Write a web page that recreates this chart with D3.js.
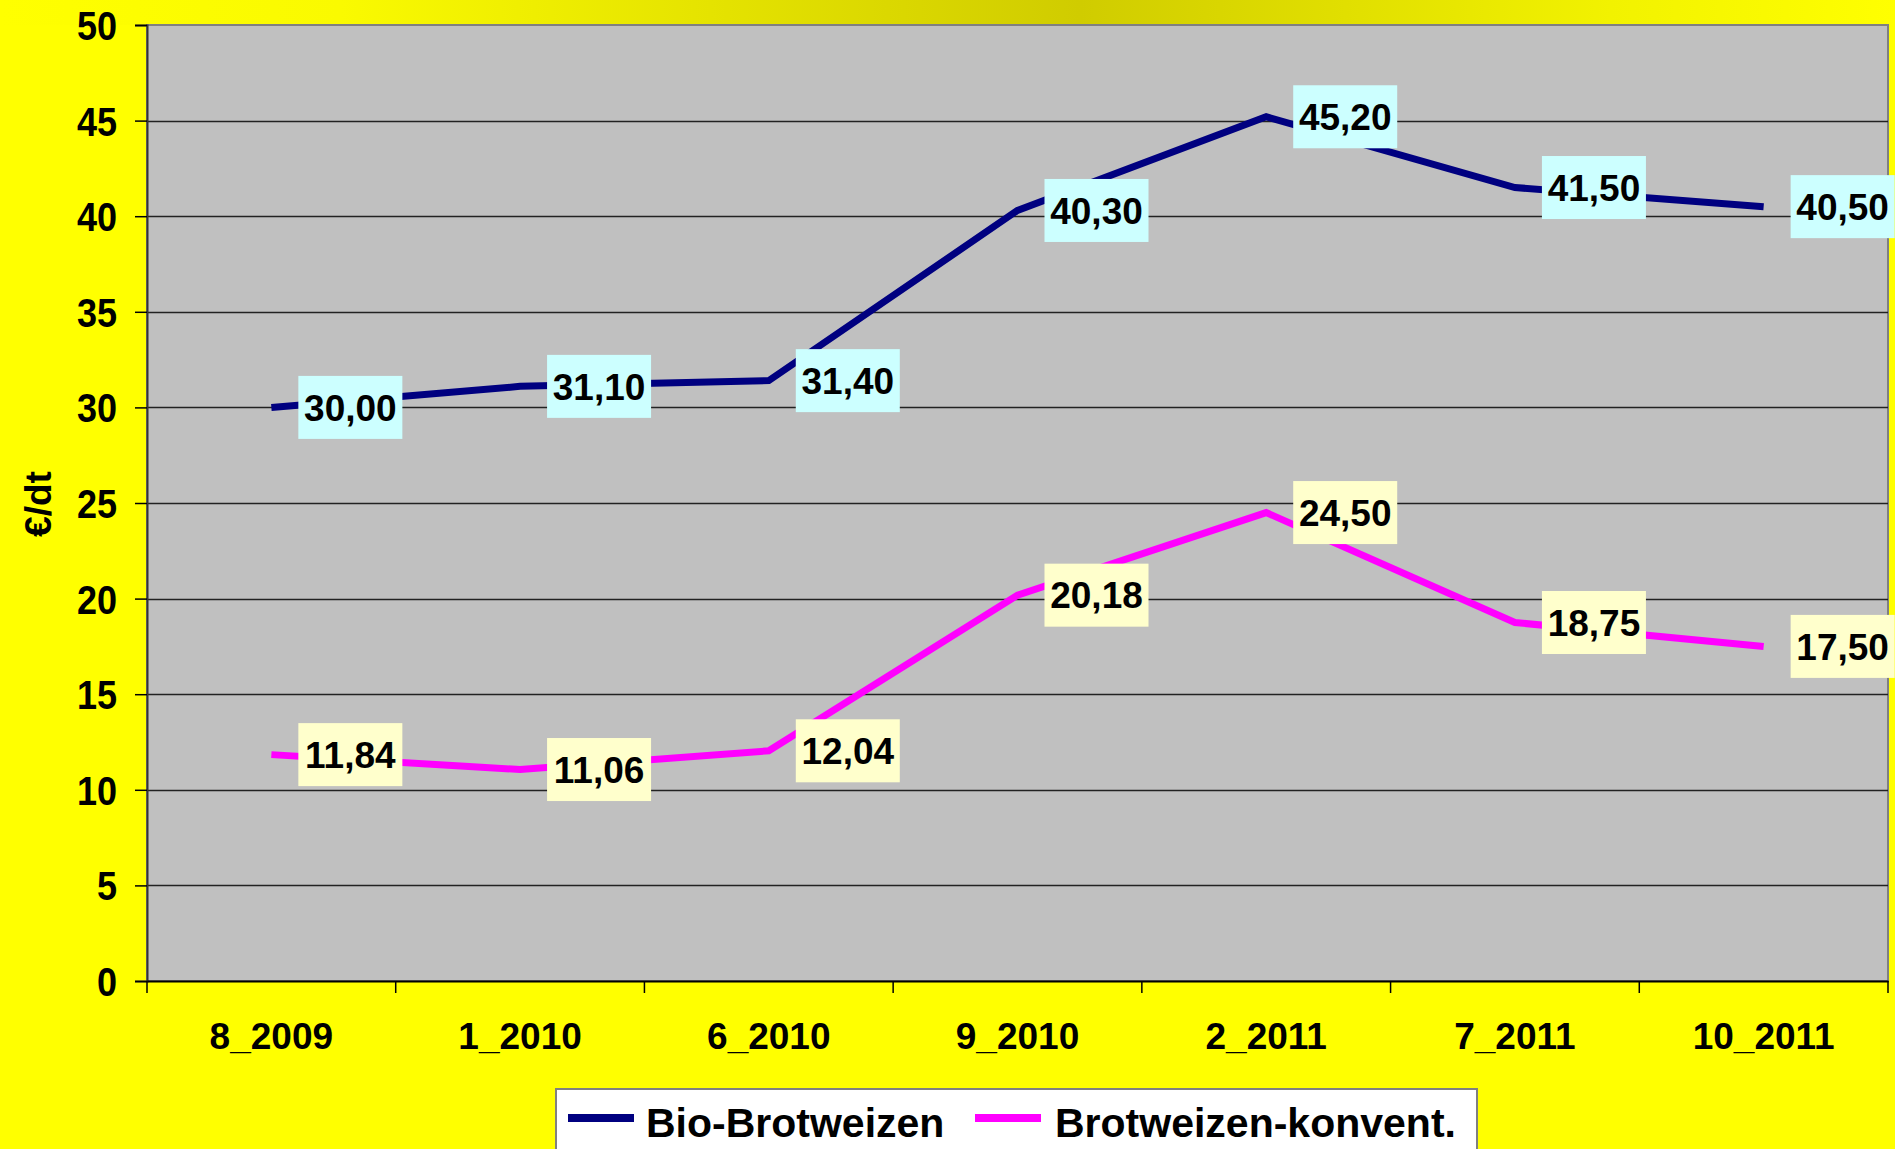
<!DOCTYPE html>
<html lang="de">
<head>
<meta charset="utf-8">
<script src="https://d3js.org/d3.v7.min.js"></script>
<style>
  body { margin: 0; background: #ffff00; }
  svg { display: block; }
  text { font-family: "Liberation Sans", Arial, sans-serif; font-weight: bold; fill: #000; }
</style>
</head>
<body>
<script>
// data
var categories = ["8_2009", "1_2010", "6_2010", "9_2010", "2_2011", "7_2011", "10_2011"];
var bioValues = [30.00, 31.10, 31.40, 40.30, 45.20, 41.50, 40.50];
var konvValues = [11.84, 11.06, 12.04, 20.18, 24.50, 18.75, 17.50];
var yTicks = [0, 5, 10, 15, 20, 25, 30, 35, 40, 45, 50];
var seriesNames = ["Bio-Brotweizen", "Brotweizen-konvent."];

var width = 1895, height = 1149;
var plotLeft = 147, plotTop = 25, plotRight = 1888, plotBottom = 981;

var svg = d3.select("body").append("svg")
    .attr("width", width)
    .attr("height", height);

// background with darker band at the top
var defs = svg.append("defs");
var grad = defs.append("linearGradient").attr("id", "topgrad");
grad.append("stop").attr("offset", "0%").attr("stop-color", "#ffff00");
grad.append("stop").attr("offset", "18%").attr("stop-color", "#fafa00");
grad.append("stop").attr("offset", "57%").attr("stop-color", "#d0cc00");
grad.append("stop").attr("offset", "85%").attr("stop-color", "#f2f200");
grad.append("stop").attr("offset", "100%").attr("stop-color", "#ffff00");

svg.append("rect").attr("width", width).attr("height", height).attr("fill", "#ffff00");
svg.append("rect").attr("width", width).attr("height", plotTop).attr("fill", "url(#topgrad)");

var x = d3.scaleBand().domain(categories).range([plotLeft, plotRight]).padding(0);
var y = d3.scaleLinear().domain([0, 50]).range([plotBottom, plotTop]);

// plot area
svg.append("rect")
    .attr("x", plotLeft).attr("y", plotTop)
    .attr("width", plotRight - plotLeft).attr("height", plotBottom - plotTop)
    .attr("fill", "#c0c0c0")
    .attr("stroke", "#808080")
    .attr("stroke-width", 2);

// grid lines
svg.append("g").selectAll("line")
    .data(yTicks.filter(function(d){ return d > 0 && d < 50; }))
    .enter().append("line")
    .attr("x1", plotLeft).attr("x2", plotRight)
    .attr("y1", function(d){ return Math.round(y(d)) + 0.5; })
    .attr("y2", function(d){ return Math.round(y(d)) + 0.5; })
    .attr("stroke", "#222")
    .attr("stroke-width", 1.5);

// y axis
var yAxis = d3.axisLeft(y).tickValues(yTicks).tickSize(12).tickPadding(18);
var gy = svg.append("g").attr("transform", "translate(" + plotLeft + ",0)").call(yAxis);
gy.select(".domain").attr("stroke", "#333").attr("stroke-width", 2);
gy.selectAll(".tick line").attr("stroke", "#000").attr("stroke-width", 1.5);
gy.selectAll(".tick text").style("font-size", "40px").attr("dy", "0.36em")
    .each(function(){
      // tick labels are a little narrower than the font
      var w = this.getComputedTextLength();
      d3.select(this).attr("textLength", w * 0.9).attr("lengthAdjust", "spacingAndGlyphs");
    });

// x axis: labels at band centers, ticks at band edges
var xAxis = d3.axisBottom(x).tickSize(0).tickPadding(42);
var gx = svg.append("g").attr("transform", "translate(0," + plotBottom + ")").call(xAxis);
gx.select(".domain").attr("stroke", "#000").attr("stroke-width", 2);
gx.selectAll(".tick text").style("font-size", "37px");

var edges = categories.map(function(c){ return x(c); }).concat([plotRight]);
svg.append("g").selectAll("line")
    .data(edges)
    .enter().append("line")
    .attr("x1", function(d){ return d; }).attr("x2", function(d){ return d; })
    .attr("y1", plotBottom).attr("y2", plotBottom + 12)
    .attr("stroke", "#000").attr("stroke-width", 1.5);

// axis title
svg.append("text")
    .attr("transform", "translate(51,504) rotate(-90)")
    .attr("text-anchor", "middle")
    .style("font-size", "37px")
    .text("€/dt");

var series = [
  { name: seriesNames[0], values: bioValues, color: "#000080", box: "#ccffff" },
  { name: seriesNames[1], values: konvValues, color: "#ff00ff", box: "#ffffcc" }
];

var line = d3.line()
    .x(function(d, i){ return x(categories[i]) + x.bandwidth() / 2; })
    .y(function(d){ return y(d); });

series.forEach(function(s){
  svg.append("path")
      .datum(s.values)
      .attr("d", line)
      .attr("fill", "none")
      .attr("stroke", s.color)
      .attr("stroke-width", 7);
});

var fmt = d3.format(".2f");
series.forEach(function(s){
  var g = svg.append("g").selectAll("g")
      .data(s.values)
      .enter().append("g")
      .attr("transform", function(d, i){
        return "translate(" + (x(categories[i]) + x.bandwidth() / 2 + 27) + "," + y(d) + ")";
      });
  g.append("rect")
      .attr("x", 0).attr("y", -31.5)
      .attr("width", 104).attr("height", 63)
      .attr("fill", s.box);
  g.append("text")
      .attr("x", 52).attr("dy", "0.36em")
      .attr("text-anchor", "middle")
      .style("font-size", "37px")
      .text(function(d){ return fmt(d).replace(".", ","); });
});

// legend
var lg = svg.append("g");
lg.append("rect")
    .attr("x", 556).attr("y", 1089)
    .attr("width", 921).attr("height", 80)
    .attr("fill", "#fff")
    .attr("stroke", "#808080")
    .attr("stroke-width", 2);
var legendItems = [
  { x: 568, textX: 646 },
  { x: 975, textX: 1055 }
];
series.forEach(function(s, i){
  lg.append("line")
      .attr("x1", legendItems[i].x).attr("x2", legendItems[i].x + 66)
      .attr("y1", 1118).attr("y2", 1118)
      .attr("stroke", s.color).attr("stroke-width", 8);
  lg.append("text")
      .attr("x", legendItems[i].textX).attr("y", 1137)
      .style("font-size", "41px")
      .text(s.name);
});
</script>
</body>
</html>
